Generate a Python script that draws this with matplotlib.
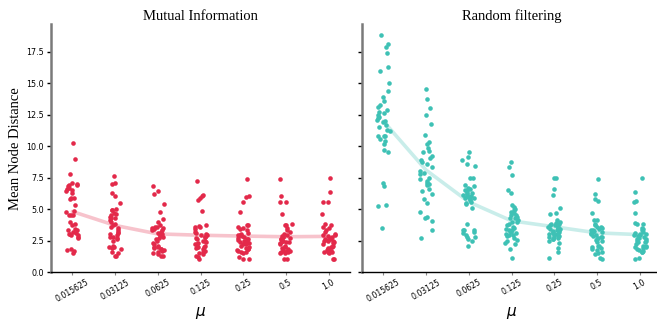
import numpy as np
import pandas as pd
import matplotlib
matplotlib.use("Agg")
import matplotlib.pyplot as plt
import seaborn as sns

mu_labels = ["0.015625", "0.03125", "0.0625", "0.125", "0.25", "0.5", "1.0"]

mi_0 = [10.25, 8.95, 7.75, 7.05, 7.0, 6.9, 6.85, 6.7, 6.6, 6.5, 6.4, 6.3, 5.85, 5.8, 5.35, 4.85,
        4.75, 4.55, 4.5, 4.5, 4.0, 3.85, 3.7, 3.3, 3.2, 3.1, 3.05, 3.0, 2.95, 2.9, 2.8, 3.4, 2.7,
        3.3, 1.8, 1.75, 1.65, 1.5, 5.9, 6.95]
mi_1 = [7.6, 7.05, 7.0, 6.3, 6.0, 5.45, 5.0, 4.95, 4.9, 4.7, 4.5, 4.3, 4.25, 4.1, 3.8, 3.7, 3.5,
        3.3, 3.1, 2.95, 2.75, 2.7, 2.5, 4.6, 2.1, 2.0, 1.95, 1.9, 1.8, 1.6, 1.5, 2.6, 3.2, 1.3,
        1.25, 3.0, 2.8, 4.0, 3.6, 4.4]
mi_2 = [6.8, 6.45, 6.2, 5.4, 4.75, 4.0, 3.75, 3.6, 3.5, 3.3, 3.2, 3.1, 3.0, 2.9, 2.85, 2.8, 2.7,
        2.6, 2.0, 1.95, 1.9, 1.85, 1.8, 1.75, 1.7, 1.6, 1.5, 1.45, 1.3, 1.25, 2.1, 2.5, 3.4, 2.2,
        3.3, 4.2, 3.0, 2.3, 3.6, 3.5]
mi_3 = [7.25, 6.1, 6.0, 5.85, 5.75, 4.85, 3.7, 3.6, 3.55, 3.4, 3.2, 3.0, 2.9, 2.8, 2.7, 2.6, 2.5,
        2.4, 2.3, 2.2, 2.1, 2.0, 2.0, 1.9, 1.8, 1.7, 1.6, 1.5, 1.4, 1.3, 1.2, 1.0, 2.75, 3.1, 2.45,
        1.65, 2.9, 3.65, 2.25, 1.95]
mi_4 = [7.35, 6.0, 5.95, 5.6, 4.8, 3.75, 3.7, 3.6, 3.4, 3.3, 3.1, 3.0, 2.9, 2.85, 2.8, 2.7, 2.6,
        2.5, 2.45, 2.4, 2.3, 2.2, 2.1, 2.0, 1.9, 1.8, 1.75, 1.7, 1.6, 1.55, 1.5, 1.2, 1.05, 1.0,
        2.65, 2.95, 3.5, 2.55, 1.85, 2.25]
mi_5 = [7.4, 6.05, 5.6, 5.55, 4.6, 3.75, 3.7, 3.5, 3.3, 3.0, 2.9, 2.85, 2.8, 2.7, 2.6, 2.5, 2.5,
        2.4, 2.3, 2.2, 2.0, 1.9, 1.8, 1.7, 1.65, 1.6, 1.55, 1.5, 1.5, 1.0, 1.0, 2.65, 2.45, 3.2,
        1.75, 2.1, 3.8, 2.75, 1.6, 2.35]
mi_6 = [7.5, 6.35, 5.6, 5.55, 4.6, 3.85, 3.75, 3.6, 3.3, 3.0, 2.9, 2.85, 2.75, 2.6, 2.55, 2.5,
        2.45, 2.3, 2.2, 2.1, 2.0, 1.8, 1.7, 1.65, 1.6, 1.55, 1.5, 1.0, 1.0, 2.65, 3.2, 2.4, 1.75,
        2.9, 2.7, 1.9, 2.0, 2.5, 3.5, 1.6]

rf_0 = [18.8, 18.1, 17.9, 17.4, 16.3, 16.0, 15.0, 14.4, 13.9, 13.6, 13.1, 12.9, 12.7, 12.6, 12.3,
        12.2, 12.0, 11.9, 11.7, 11.3, 11.2, 10.8, 10.8, 10.8, 10.4, 10.2, 9.7, 9.5, 7.1, 6.8, 5.3,
        5.25, 3.5, 12.5, 11.5, 12.1, 10.6, 13.3]
rf_1 = [14.5, 13.75, 13.0, 12.5, 11.75, 10.9, 10.3, 10.2, 9.85, 9.5, 9.2, 9.05, 8.7, 8.6, 8.35,
        8.0, 7.9, 7.5, 7.4, 7.0, 7.1, 6.6, 6.9, 6.2, 5.8, 5.5, 4.8, 4.4, 4.3, 4.05, 3.3, 2.7, 7.8,
        8.9, 6.4, 9.6, 7.2]
rf_2 = [9.5, 9.1, 8.9, 8.55, 8.4, 7.5, 7.45, 6.9, 6.8, 6.7, 6.6, 6.5, 6.4, 6.3, 6.2, 6.1, 6.0,
        5.9, 5.8, 5.75, 5.6, 5.5, 5.4, 5.05, 3.8, 3.35, 3.3, 3.3, 3.2, 2.95, 2.8, 2.75, 2.6, 2.5,
        2.05, 5.85, 6.25, 5.95, 3.1, 6.05]
rf_3 = [8.75, 8.35, 7.7, 6.55, 6.3, 5.3, 5.2, 5.0, 4.9, 4.8, 4.55, 4.5, 4.3, 4.25, 4.1, 4.0, 3.95,
        3.8, 3.6, 3.5, 3.35, 3.3, 3.2, 3.0, 2.95, 2.85, 2.7, 2.55, 2.5, 2.3, 2.25, 1.8, 1.1, 3.4,
        3.7, 4.65, 2.9, 3.1, 4.4, 3.25]
rf_4 = [7.5, 7.45, 6.6, 6.15, 5.1, 4.7, 4.6, 4.1, 4.0, 3.8, 3.7, 3.55, 3.5, 3.4, 3.3, 3.2, 3.1,
        3.05, 3.0, 2.9, 2.8, 2.75, 2.7, 2.6, 2.5, 3.75, 2.3, 3.45, 1.9, 1.6, 1.1, 3.25, 3.6, 2.95,
        3.35, 2.65, 3.9, 3.8, 3.15, 2.85]
rf_5 = [7.4, 6.2, 5.8, 5.65, 4.7, 4.15, 4.1, 3.85, 3.75, 3.6, 3.3, 3.25, 3.2, 3.0, 2.9, 2.8, 2.75,
        2.6, 2.55, 2.5, 2.4, 2.1, 2.05, 2.0, 1.9, 1.8, 1.75, 1.6, 1.5, 1.45, 1.1, 1.05, 2.7, 3.1,
        3.5, 3.3, 3.4, 3.15, 2.85, 3.6]
rf_6 = [7.5, 6.35, 5.65, 5.6, 4.65, 3.9, 3.85, 3.8, 3.5, 3.4, 3.3, 3.2, 3.1, 3.0, 2.95, 2.9, 2.8,
        2.7, 2.65, 2.5, 2.4, 2.35, 2.1, 2.05, 2.0, 1.9, 1.8, 1.75, 1.7, 1.6, 1.55, 1.1, 1.05, 2.6,
        2.25, 3.05, 1.95, 2.45, 2.85]

mi_series = [mi_0, mi_1, mi_2, mi_3, mi_4, mi_5, mi_6]
rf_series = [rf_0, rf_1, rf_2, rf_3, rf_4, rf_5, rf_6]

panels = [("Mutual Information", mi_series, "#E3294A"),
          ("Random filtering", rf_series, "#3EC1B5")]

np.random.seed(3)
W, H = 657, 321
fig = plt.figure(figsize=(W / 100, H / 100), dpi=100)
ax_left = fig.add_axes([51 / W, (H - 272) / H, 299 / W, 248 / H])
ax_right = fig.add_axes([362 / W, (H - 272) / H, 299 / W, 248 / H], sharey=ax_left)

serif = "Liberation Serif"
for ax, (title, series, color) in zip([ax_left, ax_right], panels):
    rows = []
    for lab, vals in zip(mu_labels, series):
        for v in vals:
            rows.append((lab, v))
    df = pd.DataFrame(rows, columns=["mu", "dist"])
    sns.stripplot(data=df, x="mu", y="dist", order=mu_labels, color=color, jitter=0.15,
                  size=3.3, linewidth=0, ax=ax, zorder=2)
    means = [np.mean(v) for v in series]
    ax.plot(range(len(mu_labels)), means, color=color, alpha=0.28, lw=2.6, zorder=3,
            solid_capstyle="round")
    ax.set_xlim(-0.5, 6.5)
    ax.set_ylim(0, 19.7)
    ax.set_yticks(np.arange(0, 17.6, 2.5))
    ax.set_title(title, family=serif, fontsize=10.5, pad=3)
    ax.set_xlabel("")
    ax.set_ylabel("")
    for s in ["top", "right"]:
        ax.spines[s].set_visible(False)
    ax.spines["left"].set_color("#7a7a7a")
    ax.spines["left"].set_linewidth(1.8)
    ax.spines["bottom"].set_color("black")
    ax.spines["bottom"].set_linewidth(1.0)
    ax.tick_params(axis="y", length=3, width=1, color="black", labelsize=5.8, pad=2)
    ax.tick_params(axis="x", length=2, width=0.8, color="#888888", labelsize=5.6, pad=2,
                   labelrotation=30)
    for lbl in ax.get_xticklabels():
        lbl.set_ha("center")
    ax.text(0.5, -0.165, r"$\mu$", transform=ax.transAxes, ha="center", va="center",
            fontsize=11)

ax_right.tick_params(axis="y", labelleft=False)
ax_left.text(-0.12, 0.496, "Mean Node Distance", transform=ax_left.transAxes, rotation=90,
             ha="center", va="center", family=serif, fontsize=10.5)

fig.savefig("out.png", dpi=100)
